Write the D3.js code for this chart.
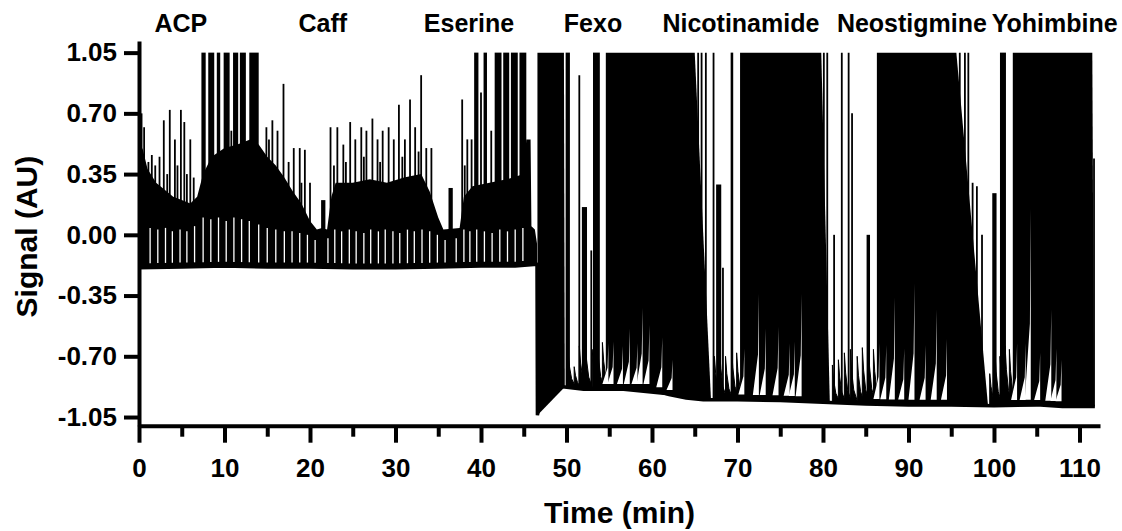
<!DOCTYPE html>
<html>
<head>
<meta charset="utf-8">
<script src="https://cdn.jsdelivr.net/npm/d3@7"></script>
<style>
  body { margin: 0; background: #fff; }
  svg { display: block; }
  text { font-family: Arial, "Liberation Sans", Helvetica, sans-serif; font-weight: bold; fill: #000; }
</style>
</head>
<body>
<script>
var width = 1122,
  height = 531;

// Drug additions shown above the trace (time in min)
var drugs = ["ACP", "Caff", "Eserine", "Fexo", "Nicotinamide", "Neostigmine", "Yohimbine"];
var drugTime = [4.9, 21.5, 38.6, 53.1, 70.4, 90.4, 107.1];

// Axis ticks
var xTicks = [0, 10, 20, 30, 40, 50, 60, 70, 80, 90, 100, 110];
var xMinor = [5, 15, 25, 35, 45, 55, 65, 75, 85, 95, 105];
var yTicks = [-1.05, -0.70, -0.35, 0, 0.35, 0.70, 1.05];

// Resting baseline of the trace
var baseT = [0, 5, 10, 15, 20, 25, 30, 35, 40, 44, 46.55, 46.6, 46.75, 47.0, 47.6, 48.6, 52, 56, 60, 62, 64, 66, 70, 75, 80, 85, 90, 95, 100, 105, 108, 111.8];
var baseV = [-0.19, -0.185, -0.18, -0.185, -0.185, -0.19, -0.19, -0.185, -0.18, -0.18, -0.17, -1.04, -1.0, -0.80, -0.84, -0.87, -0.89, -0.89, -0.89, -0.92, -0.94, -0.95, -0.95, -0.955, -0.965, -0.975, -0.98, -0.98, -0.985, -0.98, -0.99, -0.99];

// Dense part of the trace in the first 46 min (upper edge)
var massT = [0.05, 0.4, 1.0, 2.0, 3.0, 4.0, 5.0, 6.0, 6.8, 7.5, 8.5, 10.0, 11.5, 13.0, 14.0, 15.0, 16.0, 17.0, 18.0, 19.0, 20.0, 20.8, 21.4, 22.0, 22.5, 23.0, 25.0, 27.0, 29.0, 31.0, 33.0, 34.0, 35.0, 35.6, 37.5, 38.0, 39.0, 41.0, 43.0, 45.0, 45.3, 45.8, 45.9, 46.3, 46.55];
var massTop = [0.45, 0.50, 0.38, 0.30, 0.26, 0.22, 0.20, 0.18, 0.22, 0.35, 0.45, 0.50, 0.52, 0.55, 0.52, 0.45, 0.40, 0.33, 0.25, 0.18, 0.08, 0.03, 0.04, 0.03, 0.22, 0.30, 0.30, 0.32, 0.30, 0.33, 0.35, 0.25, 0.10, 0.03, 0.04, 0.22, 0.28, 0.30, 0.32, 0.35, 0.55, 0.55, 0.05, 0.03, -0.05];

// Thin single spikes (peak value)
var spikeT = [0.3, 0.6, 1.1, 1.5, 1.9, 2.4, 2.9, 3.3, 3.6, 4.2, 4.5, 4.9, 5.3, 5.6, 6.0, 6.4, 10.8, 14.9, 15.2, 15.6, 16.2, 16.9, 17.5, 18.1, 18.8, 19.0, 19.4, 20.0,
  22.4, 22.8, 23.2, 23.9, 24.2, 24.7, 25.3, 26.0, 26.3, 26.6, 27.3, 27.9, 28.2, 28.5, 29.2, 29.8, 30.4, 30.8, 31.1, 31.7, 32.3, 32.7, 33.0, 33.6, 34.2, 37.8, 38.1, 38.4, 38.9, 40.0, 41.2,
  51.5, 52.9, 65.4, 65.8, 66.3, 67.2, 68.3, 80.1, 80.5, 81.3, 82.2, 83.0, 83.4, 96.0, 96.6, 97.0, 97.5, 98.0, 98.6, 111.7];
var spikePeak = [0.70, 0.62, 0.42, 0.46, 0.40, 0.45, 0.66, 0.35, 0.72, 0.55, 0.40, 0.72, 0.65, 0.35, 0.55, 0.33, 0.60, 0.62, 0.55, 0.66, 0.60, 0.87, 0.42, 0.50, 0.50, 0.30, 0.49, 0.30,
  0.62, 0.40, 0.62, 0.52, 0.42, 0.65, 0.55, 0.62, 0.45, 0.60, 0.67, 0.55, 0.42, 0.60, 0.62, 0.55, 0.75, 0.45, 0.55, 0.78, 0.62, 0.48, 0.92, 0.50, 0.50, 0.78, 0.40, 0.55, 0.55, 0.82, 0.60,
  0.92, -0.09, 1.05, 1.05, 1.05, 1.05, -0.19, 1.05, 1.05, 0.00, 1.05, 1.05, 0.70, 1.05, 1.05, 1.05, 0.30, 0.28, 0.00, 0.44];

// Wider bursts (start, end, top)
var barStart = [7.3, 8.1, 9.1, 9.9, 11.0, 11.8, 12.9, 21.3, 36.2, 39.2, 40.3, 41.6, 42.6, 43.5, 44.5, 49.9, 51.8, 53.1, 67.5, 69.2, 85.1, 99.8, 100.7];
var barEnd = [7.8, 8.8, 9.5, 10.6, 11.6, 12.5, 14.0, 21.8, 36.7, 39.7, 40.7, 42.4, 43.3, 44.3, 45.3, 50.4, 52.4, 53.9, 68.1, 69.5, 85.5, 100.3, 101.4];
var barTop = [1.05, 1.05, 1.05, 1.05, 1.05, 1.05, 1.05, 0.20, 0.27, 1.05, 1.05, 1.05, 1.05, 1.05, 1.05, 1.05, 0.16, 1.05, 0.29, 1.05, 0.00, 0.24, 1.05];

// Saturated blocks after Fexo (start, end of saturation, end of decay)
var blockStart = [46.6, 54.6, 70.3, 86.3, 102.2];
var blockEnd = [49.7, 65.0, 79.8, 95.6, 111.5];
var blockTail = [49.8, 66.9, 80.8, 99.3, 111.7];

// Single contractions between blocks (peak value)
var toothT = [50.2, 50.9, 51.5, 52.2, 53.0, 53.6, 54.2, 67.3, 67.9, 68.6, 69.3, 69.9, 81.1, 81.8, 82.5, 83.2, 84.0, 84.6, 85.3, 85.9, 99.5, 100.1, 100.7, 101.3, 101.8];
var toothPeak = [-0.68, -0.76, -0.64, -0.61, -0.66, -0.60, -0.62, -0.70, -0.65, -0.70, -0.64, -0.68, -0.75, -0.72, -0.68, -0.66, -0.70, -0.65, -0.62, -0.66, -0.80, -0.66, -0.70, -0.64, -0.66];

// Return-to-baseline slits in the first 46 min (top of slit)
var slitT = [1.3, 2.2, 3.1, 3.9, 4.8, 5.6, 6.5, 7.5, 8.4, 9.3, 10.2, 11.1, 12.0, 12.9, 14.0, 15.0, 16.0, 17.0, 17.9, 18.8, 19.7, 20.6, 22.1, 22.9, 23.7, 24.6, 25.4, 26.3, 27.1, 28.0, 28.8, 29.7, 30.5, 31.4, 32.2, 33.1, 34.0, 34.9, 35.8, 37.1, 38.0, 38.7, 39.5, 40.4, 41.3, 42.2, 43.1, 44.0, 44.9];
var slitTop = [0.04, 0.03, 0.04, 0.02, 0.03, 0.02, 0.05, 0.10, 0.09, 0.10, 0.08, 0.10, 0.09, 0.08, 0.06, 0.04, 0.03, 0.02, 0.02, 0.01, 0.00, -0.03, -0.02, 0.03, 0.02, 0.03, 0.02, 0.01, 0.03, 0.02, 0.03, 0.02, 0.01, 0.03, 0.02, 0.03, 0.02, 0.00, -0.03, -0.02, 0.03, 0.02, 0.03, 0.02, 0.01, 0.03, 0.02, 0.03, 0.04];

// Gaps between contractions under the saturated blocks (top of gap)
var gapT = [54.9, 55.5, 56.6, 57.4, 58.3, 58.9, 59.7, 61.2, 62.4, 70.8, 72.5, 73.3, 74.8, 76.1, 76.7, 77.5, 86.6, 87.4, 88.4, 89.5, 90.7, 92.0, 93.3, 94.5, 102.7, 103.7, 104.3, 105.4, 106.7, 107.3, 107.9];
var gapTop = [-0.625, -0.615, -0.64, -0.54, -0.625, -0.42, -0.52, -0.59, -0.72, -0.655, -0.34, -0.54, -0.53, -0.625, -0.615, -0.34, -0.625, -0.635, -0.36, -0.655, -0.28, -0.635, -0.43, -0.60, -0.625, -0.625, 0.15, -0.68, -0.43, -0.655, -0.72];

var svg = d3.select("body").append("svg")
  .attr("width", width)
  .attr("height", height);

var x = d3.scaleLinear().domain([0, 112.4]).range([139, 1100]);
var y = d3.scaleLinear().domain([-1.1, 1.117]).range([425.7, 41]);
// baseline value at any time
var baseAt = d3.scaleLinear().domain(baseT).range(baseV).clamp(true);

var trace = svg.append("g").attr("class", "trace");

// dense first half
var massArea = d3.area()
  .x(function (d) { return x(d[0]); })
  .y0(function (d) { return y(baseAt(d[0])); })
  .y1(function (d) { return y(d[1]); });

trace.append("path")
  .datum(d3.zip(massT, massTop))
  .attr("d", massArea)
  .attr("fill", "#000");

// bursts
trace.selectAll("rect.bar")
  .data(d3.zip(barStart, barEnd, barTop))
  .enter().append("rect")
  .attr("class", "bar")
  .attr("x", function (d) { return x(d[0]); })
  .attr("width", function (d) { return x(d[1]) - x(d[0]); })
  .attr("y", function (d) { return y(d[2]); })
  .attr("height", function (d) { return y(baseAt((d[0] + d[1]) / 2)) - y(d[2]); })
  .attr("fill", "#000");

// saturated blocks with their decay
trace.selectAll("path.block")
  .data(d3.zip(blockStart, blockEnd, blockTail))
  .enter().append("path")
  .attr("class", "block")
  .attr("d", function (d) {
    return "M" + x(d[0]) + "," + y(baseAt(d[0])) +
      "L" + x(d[0]) + "," + y(1.05) +
      "L" + x(d[1]) + "," + y(1.05) +
      "L" + x(d[2]) + "," + y(baseAt(d[2])) + "Z";
  })
  .attr("fill", "#000");

// single contractions: fast rise, slower decay
trace.selectAll("path.tooth")
  .data(d3.zip(toothT, toothPeak))
  .enter().append("path")
  .attr("class", "tooth")
  .attr("d", function (d) {
    var b = baseAt(d[0]), h = d[1] - b;
    return "M" + x(d[0]) + "," + y(b) +
      "L" + x(d[0]) + "," + y(d[1]) +
      "L" + x(d[0] + 0.15) + "," + y(b + 0.6 * h) +
      "L" + x(d[0] + 0.4) + "," + y(b + 0.25 * h) +
      "L" + x(d[0] + 0.9) + "," + y(b) + "Z";
  })
  .attr("fill", "#000")
  .attr("stroke", "#000")
  .attr("stroke-width", 1);

// thin spikes
trace.selectAll("line.spike")
  .data(d3.zip(spikeT, spikePeak))
  .enter().append("line")
  .attr("class", "spike")
  .attr("x1", function (d) { return x(d[0]); })
  .attr("x2", function (d) { return x(d[0]); })
  .attr("y1", function (d) { return y(baseAt(d[0])); })
  .attr("y2", function (d) { return y(d[1]); })
  .attr("stroke", "#000")
  .attr("stroke-width", 1.8);

// white slits of the first half
trace.selectAll("line.slit")
  .data(d3.zip(slitT, slitTop))
  .enter().append("line")
  .attr("class", "slit")
  .attr("x1", function (d) { return x(d[0]); })
  .attr("x2", function (d) { return x(d[0]); })
  .attr("y1", function (d) { return y(baseAt(d[0]) + 0.025); })
  .attr("y2", function (d) { return y(d[1]); })
  .attr("stroke", "#fff")
  .attr("stroke-width", 1.3);

// white gaps under the blocks
trace.selectAll("path.gap")
  .data(d3.zip(gapT, gapTop))
  .enter().append("path")
  .attr("class", "gap")
  .attr("d", function (d) {
    var b = baseAt(d[0]) + 0.03;
    return "M" + x(d[0]) + "," + y(b) +
      "L" + x(d[0]) + "," + y(d[1]) +
      "L" + x(d[0] - 0.1) + "," + y(b + 0.4 * (d[1] - b)) +
      "L" + x(d[0] - 0.7) + "," + y(b) + "Z";
  })
  .attr("fill", "#fff");

// baseline
trace.append("path")
  .datum(d3.zip(baseT, baseV))
  .attr("d", d3.line()
    .x(function (d) { return x(d[0]); })
    .y(function (d) { return y(d[1]); }))
  .attr("fill", "none")
  .attr("stroke", "#000")
  .attr("stroke-width", 3.5);

/* AXES */

var gx = svg.append("g")
  .attr("transform", "translate(0," + y(-1.1) + ")")
  .call(d3.axisBottom(x)
    .tickValues(xTicks)
    .tickFormat(d3.format("d"))
    .tickSize(17)
    .tickSizeOuter(0)
    .tickPadding(16));

svg.append("g")
  .attr("transform", "translate(0," + y(-1.1) + ")")
  .call(d3.axisBottom(x)
    .tickValues(xMinor)
    .tickFormat("")
    .tickSize(11)
    .tickSizeOuter(0))
  .call(function (g) { g.select(".domain").remove(); })
  .selectAll("line").attr("stroke-width", 4);

var gy = svg.append("g")
  .attr("transform", "translate(" + x(0) + ",0)")
  .call(d3.axisLeft(y)
    .tickValues(yTicks)
    .tickFormat(function (d) { return d.toFixed(2); })
    .tickSize(15)
    .tickSizeOuter(0)
    .tickPadding(7));

[gx, gy].forEach(function (g) {
  g.attr("font-size", 26);
  g.select(".domain").attr("stroke-width", 4);
  g.selectAll(".tick line").attr("stroke-width", 4);
});

// axis titles
svg.append("text")
  .attr("x", (x.range()[0] + x.range()[1]) / 2)
  .attr("y", 523)
  .attr("text-anchor", "middle")
  .attr("font-size", 30)
  .text("Time (min)");

svg.append("text")
  .attr("transform", "translate(37," + y(-0.01) + ") rotate(-90)")
  .attr("text-anchor", "middle")
  .attr("font-size", 30)
  .text("Signal (AU)");

// drug labels
svg.selectAll("text.drug")
  .data(drugs)
  .enter().append("text")
  .attr("class", "drug")
  .attr("x", function (d, i) { return x(drugTime[i]); })
  .attr("y", 32)
  .attr("text-anchor", "middle")
  .attr("font-size", 25)
  .text(function (d) { return d; });
</script>
</body>
</html>
